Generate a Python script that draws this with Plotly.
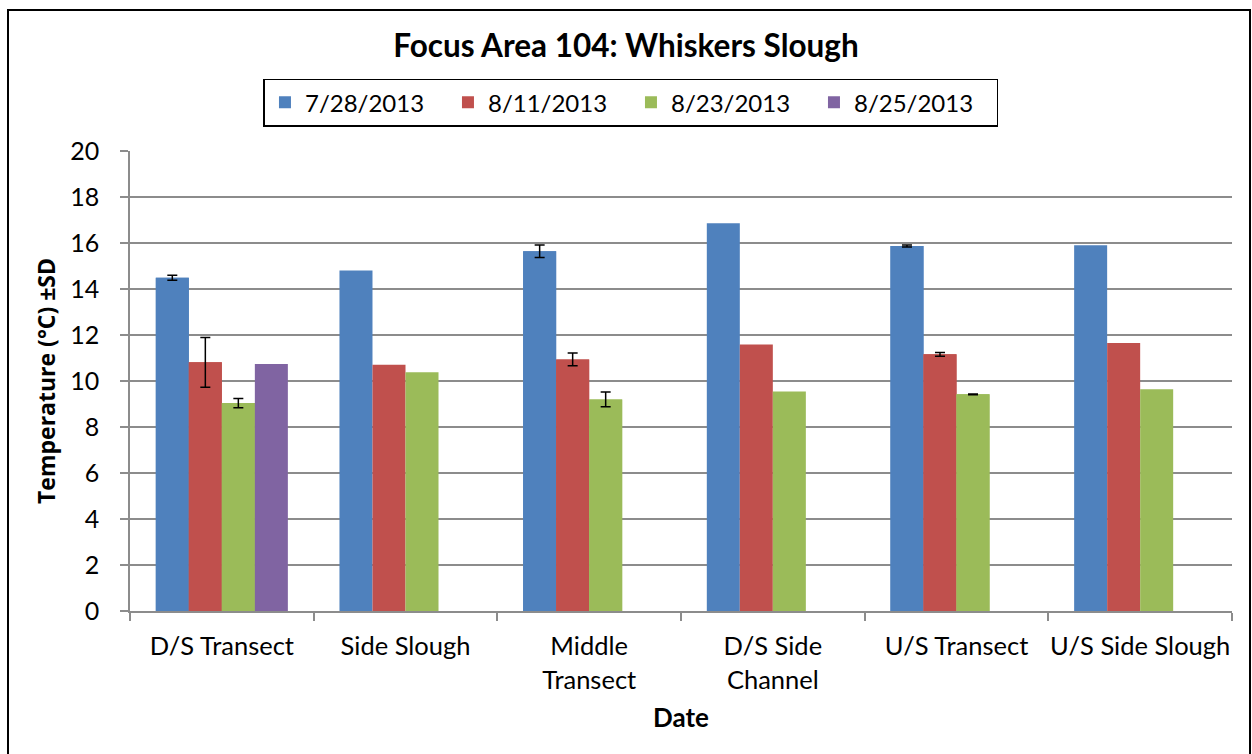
import plotly.graph_objects as go

# Sampling sites along the slough
categories = ["D/S Transect", "Side Slough", "Middle<br>Transect",
              "D/S Side<br>Channel", "U/S Transect", "U/S Side Slough"]

# Mean water temperature (°C) per survey date
temp_0728 = [14.49, 14.80, 15.64, 16.86, 15.87, 15.90]
temp_0811 = [10.81, 10.71, 10.94, 11.59, 11.16, 11.65]
temp_0823 = [9.04, 10.38, 9.20, 9.54, 9.42, 9.64]
temp_0825 = [10.74, None, None, None, None, None]

# Standard deviations (None = single measurement, no error bar)
sd_0728 = [0.11, None, 0.27, None, 0.04, None]
sd_0811 = [1.08, None, 0.28, None, 0.08, None]
sd_0823 = [0.20, None, 0.32, None, 0.02, None]
sd_0825 = [None, None, None, None, None, None]

series = [
    ("7/28/2013", temp_0728, sd_0728, "#4F81BD"),
    ("8/11/2013", temp_0811, sd_0811, "#C0504D"),
    ("8/23/2013", temp_0823, sd_0823, "#9BBB59"),
    ("8/25/2013", temp_0825, sd_0825, "#8064A2"),
]

FONT = "Lato"

fig = go.Figure()
for i, (name, vals, sd, color) in enumerate(series):
    grp = str(i)
    fig.add_trace(go.Bar(
        name=name, x=categories, y=vals, offsetgroup=grp,
        marker=dict(color=color, line=dict(width=0)),
    ))
    # Overlay only the points that have an SD, so error bars appear there only
    if any(s is not None for s in sd):
        y_sd = [v if s is not None else None for v, s in zip(vals, sd)]
        err = [s if s is not None else 0 for s in sd]
        fig.add_trace(go.Bar(
            name=name, x=categories, y=y_sd, offsetgroup=grp,
            showlegend=False, hoverinfo="skip",
            marker=dict(color=color, line=dict(width=0)),
            error_y=dict(type="data", array=err, visible=True,
                         color="black", thickness=1.5, width=5),
        ))

grid_color = "#8C8C8C"

fig.update_layout(
    width=1252, height=754,
    margin=dict(l=130, r=20, t=151, b=143),
    paper_bgcolor="white", plot_bgcolor="white",
    barmode="group", bargap=0.281, bargroupgap=0,
    font=dict(family=FONT, size=25, color="black"),
    title=dict(text="<b>Focus Area 104: Whiskers Slough</b>",
               font=dict(family=FONT, size=31.5, color="black"),
               x=0.5, xanchor="center", y=1 - 46 / 754, yanchor="middle",
               yref="container"),
    showlegend=True,
    legend=dict(orientation="h", x=0.4546, xanchor="center",
                y=1.105, yanchor="middle",
                bordercolor="black", borderwidth=1.5,
                font=dict(family=FONT, size=24),
                entrywidth=138, entrywidthmode="pixels",
                itemsizing="constant", traceorder="normal"),
    xaxis=dict(
        title=dict(text="<b>Date</b>", font=dict(family=FONT, size=26),
                   standoff=16),
        showline=True, linecolor=grid_color, linewidth=1.5,
        ticks="outside", ticklen=8, tickcolor=grid_color, tickwidth=1.5,
        tickson="boundaries", tickfont=dict(family=FONT, size=25.5),
        tickangle=0, ticklabelstandoff=12, showgrid=False,
        automargin=False,
    ),
    yaxis=dict(
        title=dict(text="<b>Temperature (°C) ±SD</b>",
                   font=dict(family="Open Sans", size=23), standoff=8),
        range=[0, 20], dtick=2, tick0=0,
        showline=True, linecolor=grid_color, linewidth=1.5,
        ticks="outside", ticklen=8, tickcolor=grid_color, tickwidth=1.5,
        showgrid=True, gridcolor=grid_color, gridwidth=1.5,
        tickfont=dict(family=FONT, size=25), ticklabelstandoff=16,
        zeroline=False, automargin=False,
    ),
    shapes=[dict(type="rect", xref="paper", yref="paper",
                 x0=(8 - 130) / 1102, x1=(1250 - 130) / 1102,
                 y0=(611 - 770) / 460, y1=(611 - 10) / 460,
                 line=dict(color="black", width=2), fillcolor="rgba(0,0,0,0)",
                 layer="below")],
)

fig.write_html("out.html")
